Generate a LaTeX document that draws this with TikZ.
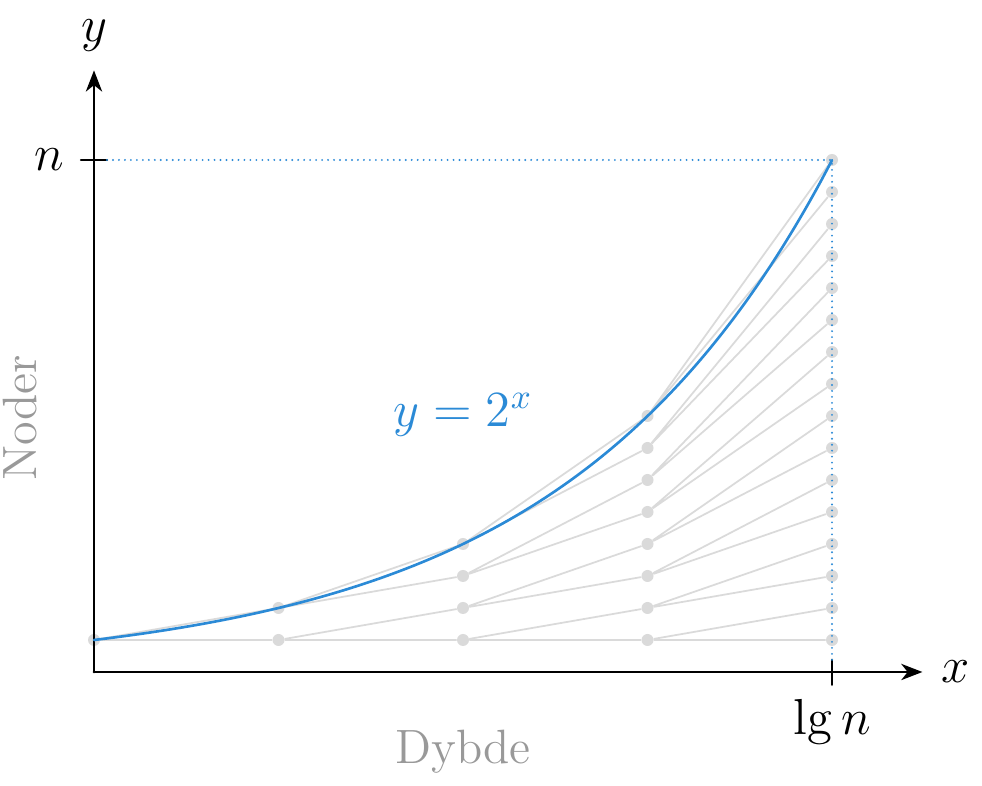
\documentclass[tikz,border=0pt]{standalone}
\usepackage{amsmath}
\usetikzlibrary{arrows.meta}
\definecolor{curveblue}{HTML}{2B8AD6}
\definecolor{dotgray}{HTML}{DADADA}
\definecolor{labelgray}{HTML}{999999}
\tikzset{
  every picture/.style={line join=round, line cap=round, >=Stealth},
  edge/.style={draw=dotgray, line width=0.5pt},
  dot/.style={circle, fill=dotgray, inner sep=0pt, minimum size=0.12cm},
  axis/.style={line width=0.8pt, -{Stealth[length=6pt,width=4.6pt,inset=1.8pt]}},
  guide/.style={draw=curveblue, line width=0.6pt, dash pattern=on 0pt off 1.7pt},
}

\begin{document}
\begin{tikzpicture}[x=1.845cm,y=0.32cm,font=\fontsize{13.7}{16}\selectfont]
\useasboundingbox (-0.94cm,-1.46cm) rectangle (8.88cm,6.40cm);
% tree levels
\foreach \k in {0,...,4}{
  \pgfmathtruncatemacro\last{2^\k-1}
  \foreach \i in {0,...,\last}
    \node[dot] (l\k-\i) at (\k,\i) {};
}
\foreach \k in {0,...,3}{
  \pgfmathtruncatemacro\last{2^\k-1}
  \pgfmathtruncatemacro\nk{\k+1}
  \foreach \i in {0,...,\last}{
    \pgfmathtruncatemacro\a{2*\i}
    \pgfmathtruncatemacro\b{2*\i+1}
    \draw[edge] (l\k-\i) -- (l\nk-\a) (l\k-\i) -- (l\nk-\b);
  }
}
% axes
\coordinate (O) at (0,-1);
\coordinate (xtip) at (4.49,-1);
\coordinate (ytip) at (0,17.8);
\draw[axis] (O) -- (xtip);
\draw[axis] (O) -- (ytip);
\node (xlab) at (4.67,-1) {$x$};
\node (ylab) at (0,18.9) {$y$};
% ticks
\coordinate (ntick-l) at ([xshift=-0.13cm]0,15);
\coordinate (ntick-r) at ([xshift=0.13cm]0,15);
\coordinate (lgtick-t) at (4,-0.62);
\coordinate (lgtick-b) at (4,-1.4);
\draw[line width=0.7pt] (ntick-l) -- (ntick-r);
\draw[line width=0.7pt] (lgtick-t) -- (lgtick-b);
\node (nlab) at (-0.24,15) {$n$};
\node (lglab) at (4,-2.56) {$\lg n$};
% guides and curve
\draw[guide] (ntick-r) -- (l4-15.center) -- (lgtick-t);
\draw[curveblue, line width=0.75pt] plot[domain=0:4, samples=60, smooth] (\x,{2^\x-1});
\node[text=curveblue] (curvelab) at (2,7.03) {$y = 2^x$};
% axis names
\node[text=labelgray, rotate=90] (noder) at (-0.40,6.94) {Noder};
\node[text=labelgray] (dybde) at (2,-3.5) {Dybde};
\end{tikzpicture}
\end{document}
